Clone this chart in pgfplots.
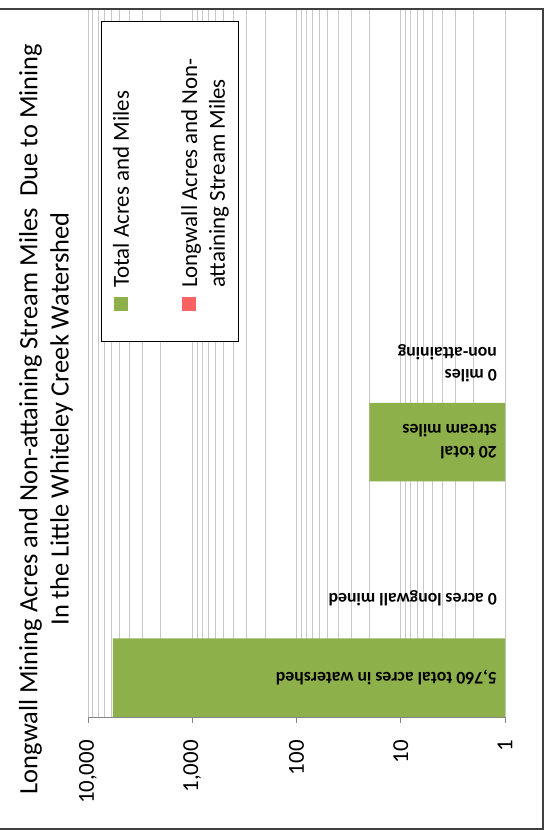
\documentclass[border=0pt]{standalone}
\usepackage{pgfplots}
\pgfplotsset{compat=1.18}
\usepackage{fontspec}
\setmainfont{Carlito}

\definecolor{barGreen}{HTML}{8EB04B}
\definecolor{barRed}{HTML}{FF6262}
\definecolor{gridGray}{HTML}{C8C8C8}
\definecolor{axisGray}{HTML}{868686}

\begin{document}
\begin{tikzpicture}[x=1bp,y=1bp]
\path[use as bounding box] (-88,-113) rectangle (462,717);
% chart border
\draw[black!75, line width=1.5bp] (-95,708) -- (455,708) -- (455,-112) -- (-95,-112);

% title
\node[rotate=90, align=center, font=\fontsize{26.5}{31.5}\selectfont]
  at (-42,298) {Longwall Mining Acres and Non-attaining Stream Miles\ \ Due to Mining\\In the Little Whiteley Creek Watershed};

\begin{axis}[
    scale only axis, width=417bp, height=707bp,
    at={(0,0)}, anchor=south west,
    xmode=log, x dir=reverse,
    xmin=1, xmax=10000,
    ymin=0, ymax=3, ytick=\empty,
    axis x line*=bottom, axis y line=none,
    x axis line style={axisGray, line width=0.8bp},
    xtick={1,10,100,1000,10000},
    xticklabels={1,10,100,{1,000},{10,000}},
    minor xtick={2,3,4,5,6,7,8,9,20,30,40,50,60,70,80,90,200,300,400,500,600,700,800,900,2000,3000,4000,5000,6000,7000,8000,9000},
    xmajorgrids, xminorgrids,
    major grid style={gridGray, line width=0.8bp},
    minor grid style={gridGray, line width=0.8bp},
    tick align=outside, major tick length=6bp, minor tick length=0pt,
    xtick style={axisGray, line width=0.8bp},
    xticklabel style={rotate=90, anchor=east, inner sep=0pt, font=\fontsize{23}{28}\selectfont},
    xticklabel shift=17bp,
  ]
  % Total acres and miles
  \addplot[xbar, bar width=0.333, bar shift=0, fill=barGreen, draw=none]
    coordinates {(5760,0.1667) (20,1.1667)};
  % Longwall acres and non-attaining stream miles (both zero)
  \addplot[xbar, bar width=0.333, bar shift=0, fill=barRed, draw=none]
    coordinates {(0,0.5) (0,1.5)};

  \begin{scope}[every node/.style={rotate=180, anchor=west, inner sep=0pt, align=left,
      font=\fontsize{17.8}{22}\selectfont\bfseries}]
    \node at (axis cs:1.19,0.1667) {5,760 total acres in watershed};
    \node at (axis cs:1.19,0.505) {0 acres longwall mined};
    \node at (axis cs:1.19,1.167) {20 total\\stream miles};
    \node at (axis cs:1.19,1.50) {0 miles\\non-attaining};
  \end{scope}
\end{axis}

% legend
\draw[black, line width=1bp, fill=white] (13,375) rectangle (150,695);
\fill[barGreen] (26,406) rectangle (40,420);
\fill[barRed] (94,406) rectangle (108,420);
\node[rotate=90, anchor=west, inner sep=0pt, font=\fontsize{23}{28}\selectfont]
  at (33,429) {Total Acres and Miles};
\node[rotate=90, anchor=west, inner sep=0pt, align=left, font=\fontsize{23}{28}\selectfont]
  at (117,429) {Longwall Acres and Non-\\attaining Stream Miles};
\end{tikzpicture}
\end{document}
